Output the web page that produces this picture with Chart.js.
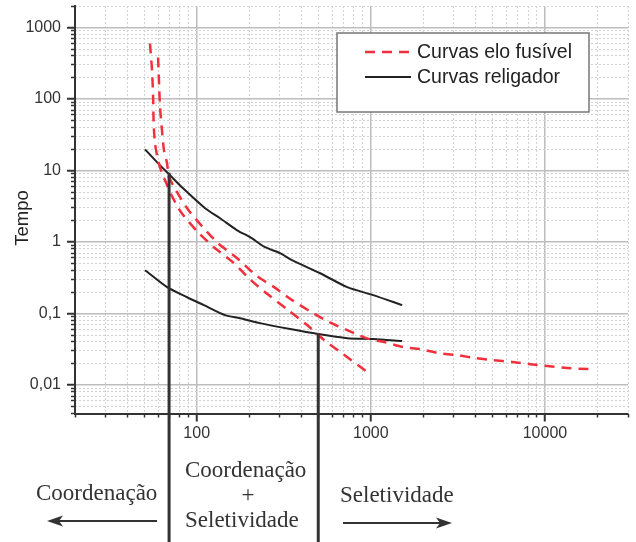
<!DOCTYPE html>
<html>
<head>
<meta charset="utf-8">
<script src="https://cdn.jsdelivr.net/npm/chart.js@4.4.1/dist/chart.umd.min.js"></script>
<style>
  html, body { margin: 0; padding: 0; background: #fff; }
</style>
</head>
<body>
<canvas id="myChart" width="636" height="542"></canvas>
<script>
// Curvas elo fusível (duas curvas tracejadas)
const fuseAX = [53.9, 55.4, 56.2, 56.6, 57.6, 60.0, 63.2, 65.8, 72.2, 81.3, 101.8, 127.5, 161.9, 202.7, 247.2, 335, 431, 540, 694, 953];
const fuseAY = [598, 251, 105, 45.6, 24, 13.9, 9.14, 7.3, 4.36, 2.61, 1.37, 0.82, 0.52, 0.30, 0.199, 0.112, 0.069, 0.0425, 0.0271, 0.0152];
const fuseBX = [60.0, 60.8, 61.6, 63.2, 64.9, 67.6, 69.4, 88.1, 107.4, 132.7, 170.7, 222.3, 278.5, 353.4, 454.5, 576.7, 731.6, 940.8, 1194, 1536, 1923, 2440, 3136, 3981, 5050, 6495, 8245, 10320, 13450, 17760];
const fuseBY = [381, 165, 76.3, 36.4, 19.1, 12.6, 8.04, 2.97, 1.66, 0.962, 0.594, 0.333, 0.234, 0.154, 0.105, 0.0758, 0.0586, 0.0453, 0.0399, 0.0339, 0.0318, 0.028, 0.0262, 0.0238, 0.0223, 0.021, 0.0196, 0.0184, 0.0173, 0.0167];

// Curvas religador
const slowX = [50.5, 61.6, 70.3, 83.5, 111.7, 136.2, 170.7, 202.7, 247, 301, 353, 512, 732, 1032, 1514];
const slowY = [19.8, 11.8, 8.57, 5.64, 2.97, 2.15, 1.46, 1.17, 0.846, 0.70, 0.557, 0.366, 0.234, 0.181, 0.131];
const fastX = [50.5, 67.6, 88.1, 110, 145.6, 177.5, 231, 344, 499, 732, 1032, 1514];
const fastY = [0.404, 0.234, 0.169, 0.131, 0.095, 0.086, 0.0735, 0.0606, 0.0516, 0.0453, 0.0439, 0.0412];

// linhas verticais de separação (corrente, tempo no topo)
const markerX = [69.4, 499];
const markerTop = [9.3, 0.053];

// eixos
const xMajor = [100, 1000, 10000];
const xLabels = ['100', '1000', '10000'];
const yMajor = [0.01, 0.1, 1, 10, 100, 1000];
const yLabels = ['0,01', '0,1', '1', '10', '100', '1000'];
const xMin = 20, xMax = 30000, yMin = 0.004, yMax = 2000;
const multipliers = [2, 3, 4, 5, 6, 7, 8, 9];

const legendLabels = ['Curvas elo fusível', 'Curvas religador'];
const yTitle = 'Tempo';

function minorTicks(decades, lo, hi) {
  const out = [];
  decades.forEach(d => multipliers.forEach(m => {
    const v = +(d * m).toPrecision(6);
    if (v >= lo * 0.999 && v <= hi * 1.001) out.push({ value: v });
  }));
  return out;
}

const toPts = (xs, ys) => xs.map((x, i) => ({ x: x, y: ys[i] }));

const red = '#f0303c';
const dark = '#222';

const overlay = {
  id: 'overlay',
  afterDraw(chart) {
    const ctx = chart.ctx;
    const xs = chart.scales.x, ys = chart.scales.y;
    ctx.save();

    // linhas verticais
    ctx.strokeStyle = '#333';
    ctx.lineWidth = 3;
    markerX.forEach((v, i) => {
      const px = xs.getPixelForValue(v);
      ctx.beginPath();
      ctx.moveTo(px, ys.getPixelForValue(markerTop[i]));
      ctx.lineTo(px, chart.height);
      ctx.stroke();
    });

    // legenda
    ctx.fillStyle = '#fff';
    ctx.fillRect(337, 33, 252, 79);
    ctx.strokeStyle = '#777';
    ctx.lineWidth = 1.5;
    ctx.strokeRect(337, 33, 252, 79);
    const ds = chart.data.datasets;
    [0, 2].forEach((di, row) => {
      const y = 52 + row * 25;
      ctx.strokeStyle = ds[di].borderColor;
      ctx.lineWidth = ds[di].borderWidth;
      ctx.setLineDash(ds[di].borderDash || []);
      ctx.beginPath();
      ctx.moveTo(365, y);
      ctx.lineTo(411, y);
      ctx.stroke();
      ctx.setLineDash([]);
      ctx.fillStyle = dark;
      ctx.font = '19.5px "Liberation Sans", Arial, sans-serif';
      ctx.textBaseline = 'middle';
      ctx.textAlign = 'left';
      ctx.fillText(ds[di].label, 417, y + 1);
    });

    // título do eixo y
    ctx.save();
    ctx.translate(23, 218);
    ctx.rotate(-Math.PI / 2);
    ctx.font = '18.5px "Liberation Sans", Arial, sans-serif';
    ctx.textAlign = 'center';
    ctx.textBaseline = 'middle';
    ctx.fillStyle = dark;
    ctx.fillText(yTitle, 0, 0);
    ctx.restore();

    // anotações inferiores
    ctx.fillStyle = '#333';
    ctx.strokeStyle = '#333';
    ctx.font = '23px "Liberation Serif", "Times New Roman", serif';
    ctx.textBaseline = 'alphabetic';
    ctx.textAlign = 'left';
    ctx.fillText('Coordenação', 36, 500);
    ctx.fillText('Coordenação', 185, 477);
    ctx.fillText('Seletividade', 185, 527);
    ctx.fillText('Seletividade', 340, 502);
    ctx.textAlign = 'center';
    ctx.fillText('+', 248, 502);

    const arrow = (x1, x2, y) => {
      const dir = Math.sign(x2 - x1);
      ctx.lineWidth = 2;
      ctx.beginPath();
      ctx.moveTo(x1, y);
      ctx.lineTo(x2 - dir * 10, y);
      ctx.stroke();
      ctx.beginPath();
      ctx.moveTo(x2, y);
      ctx.lineTo(x2 - dir * 16, y - 5.5);
      ctx.lineTo(x2 - dir * 12, y);
      ctx.lineTo(x2 - dir * 16, y + 5.5);
      ctx.closePath();
      ctx.fill();
    };
    arrow(157, 47, 521);
    arrow(343, 452, 523);

    ctx.restore();
  }
};

const tickFont = { family: '"Liberation Sans", Arial, sans-serif', size: 16 };

const noPadX = a => { a.paddingLeft = 0; a.paddingRight = 0; };
const noPadY = a => { a.paddingTop = 0; a.paddingBottom = 0; };

const config = {
  type: 'line',
  data: {
    datasets: [
      { label: legendLabels[0], data: toPts(fuseAX, fuseAY), borderColor: red, borderWidth: 2.5, borderDash: [10, 7], tension: 0.25 },
      { label: legendLabels[0], data: toPts(fuseBX, fuseBY), borderColor: red, borderWidth: 2.5, borderDash: [10, 7], tension: 0.25 },
      { label: legendLabels[1], data: toPts(slowX, slowY), borderColor: dark, borderWidth: 2, tension: 0.25 },
      { label: legendLabels[1], data: toPts(fastX, fastY), borderColor: dark, borderWidth: 2, tension: 0.25 }
    ]
  },
  options: {
    responsive: false,
    animation: false,
    elements: { point: { radius: 0 } },
    layout: { padding: { top: 6, right: 8, left: 0, bottom: 0 } },
    plugins: { legend: { display: false }, tooltip: { enabled: false } },
    scales: {
      x: {
        type: 'logarithmic', position: 'bottom', weight: 1,
        min: xMin, max: xMax, bounds: 'data',
        afterBuildTicks: a => { a.ticks = xMajor.map(v => ({ value: v })); },
        afterFit: a => { a.height = 128.5; noPadX(a); },
        ticks: {
          autoSkip: false, maxRotation: 0, padding: 2, color: '#333', font: tickFont,
          callback: v => { const i = xMajor.indexOf(v); return i >= 0 ? xLabels[i] : ''; }
        },
        grid: { color: '#bdbdbd', lineWidth: 1.5, tickColor: '#333', tickWidth: 2, tickLength: 8 },
        border: { display: true, color: '#333', width: 2 }
      },
      xMinor: {
        type: 'logarithmic', position: 'bottom', weight: 0,
        min: xMin, max: xMax, bounds: 'data',
        afterBuildTicks: a => { a.ticks = minorTicks([10, 100, 1000, 10000], xMin, xMax); },
        afterFit: a => { a.height = 0; noPadX(a); },
        ticks: { display: false },
        grid: { color: '#d2d2d2', lineWidth: 1, tickColor: '#333', tickWidth: 1.5, tickLength: 4 },
        border: { display: false, dash: [2, 2] }
      },
      y: {
        type: 'logarithmic', position: 'left', weight: 1,
        min: yMin, max: yMax, bounds: 'data',
        afterBuildTicks: a => { a.ticks = yMajor.map(v => ({ value: v })); },
        afterFit: a => { a.width = 75; noPadY(a); },
        ticks: {
          autoSkip: false, padding: 6, color: '#333', font: tickFont,
          callback: v => { const i = yMajor.indexOf(v); return i >= 0 ? yLabels[i] : ''; }
        },
        grid: { color: '#bdbdbd', lineWidth: 1.5, tickColor: '#333', tickWidth: 2, tickLength: 8 },
        border: { display: true, color: '#333', width: 2 }
      },
      yMinor: {
        type: 'logarithmic', position: 'left', weight: 0,
        min: yMin, max: yMax, bounds: 'data',
        afterBuildTicks: a => { a.ticks = minorTicks([0.001, 0.01, 0.1, 1, 10, 100, 1000], yMin, yMax); },
        afterFit: a => { a.width = 0; noPadY(a); },
        ticks: { display: false },
        grid: { color: '#d2d2d2', lineWidth: 1, tickColor: '#333', tickWidth: 1.5, tickLength: 4 },
        border: { display: false, dash: [2, 2] }
      }
    }
  },
  plugins: [overlay]
};

const myChart = new Chart(document.getElementById('myChart'), config);
</script>
</body>
</html>
